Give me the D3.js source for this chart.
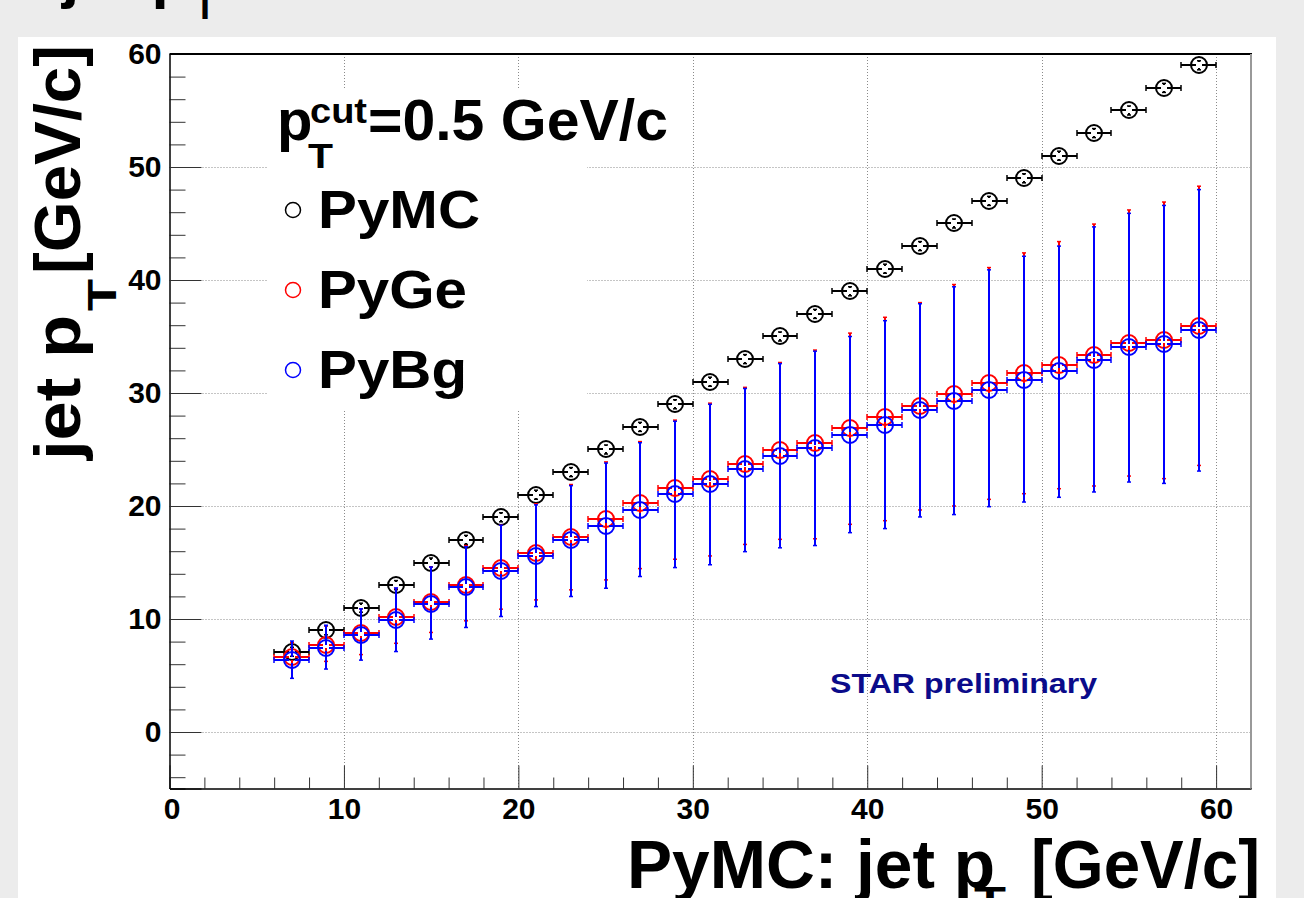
<!DOCTYPE html>
<html>
<head>
<meta charset="utf-8">
<script src="https://cdn.jsdelivr.net/npm/d3@7"></script>
<style>
  body { margin: 0; background: #ececec; }
  text { font-family: "Liberation Sans", Arial, sans-serif; font-weight: bold; }
</style>
</head>
<body>
<div id="chart"></div>
<script>
// bin centres of the PyMC jet pT histogram
let xBins = [7, 9, 11, 13, 15, 17, 19, 21, 23, 25, 27, 29, 31, 33, 35, 37, 39, 41, 43, 45, 47, 49, 51, 53, 55, 57, 59];
let binHalf = 1;

let pymcY = [7.1, 9.0, 11.0, 13.0, 15.0, 17.0, 19.0, 21.0, 23.0, 25.0, 27.0, 29.0, 31.0, 33.0, 35.0, 37.0, 39.0, 41.0, 43.0, 45.0, 47.0, 49.0, 51.0, 53.0, 55.0, 57.0, 59.0];
let pymcErr = [0.4, 0.4, 0.4, 0.4, 0.4, 0.4, 0.4, 0.4, 0.4, 0.4, 0.4, 0.4, 0.4, 0.4, 0.4, 0.4, 0.4, 0.4, 0.4, 0.4, 0.4, 0.4, 0.4, 0.4, 0.4, 0.4, 0.4];

let pygeY = [6.6, 7.69, 8.8, 10.16, 11.52, 13.05, 14.55, 15.88, 17.26, 18.82, 20.24, 21.56, 22.36, 23.68, 24.95, 25.54, 26.92, 27.86, 28.84, 29.87, 30.9, 31.78, 32.46, 33.34, 34.43, 34.67, 35.96];
let pygeLo = [5.7, 6.25, 6.85, 7.85, 8.81, 9.84, 10.87, 11.69, 12.58, 13.46, 14.46, 15.29, 15.58, 16.6, 17.05, 17.1, 18.38, 18.7, 19.65, 20.0, 20.59, 21.09, 21.53, 21.77, 22.65, 22.42, 23.59];
let pygeHi = [7.9, 9.4, 10.9, 12.7, 14.6, 16.5, 18.3, 20.2, 21.9, 23.9, 25.7, 27.6, 29.1, 30.5, 32.7, 33.8, 35.3, 36.7, 38.0, 39.6, 41.1, 42.4, 43.4, 44.95, 46.2, 46.9, 48.3];

let pybgY = [6.4, 7.45, 8.6, 9.95, 11.37, 12.81, 14.25, 15.58, 16.97, 18.23, 19.64, 21.09, 21.97, 23.3, 24.4, 25.1, 26.27, 27.2, 28.48, 29.28, 30.3, 31.19, 31.93, 32.96, 34.05, 34.34, 35.55];
let pybgLo = [4.75, 5.57, 6.36, 7.12, 8.22, 9.25, 10.22, 11.1, 11.99, 12.72, 13.76, 14.55, 14.8, 15.96, 16.3, 16.5, 17.64, 18.0, 19.03, 19.24, 19.94, 20.35, 20.77, 21.24, 22.12, 22.0, 23.09];
let pybgHi = [8.05, 9.45, 10.9, 12.75, 14.6, 16.4, 18.3, 20.1, 21.8, 23.8, 25.6, 27.5, 29.0, 30.4, 32.6, 33.7, 35.0, 36.4, 37.9, 39.4, 40.9, 42.1, 43.0, 44.7, 45.9, 46.6, 48.0];

let seriesNames = ['PyMC', 'PyGe', 'PyBg'];
let seriesColors = ['#000000', '#ff0000', '#0000ff'];

let xTickLabels = [0, 10, 20, 30, 40, 50, 60];
let yTickLabels = [0, 10, 20, 30, 40, 50, 60];
let xDomain = [0, 62];
let yDomain = [-5, 60];

(function () {
  let width = 1304,
    height = 898;

  let svg = d3.select('#chart').append('svg')
    .attr('width', width)
    .attr('height', height)
    .style('display', 'block');

  svg.append('rect')
    .attr('width', width)
    .attr('height', height)
    .attr('fill', '#ececec');

  // page title, mostly cut off by the top of the canvas
  let title = svg.append('g');
  title.append('text').attr('x', 62).attr('y', -4).style('font-size', '62px').text('jet p');
  title.append('text').attr('x', 194).attr('y', 19).style('font-size', '36px').text('T');
  title.append('text').attr('x', 233).attr('y', -4).style('font-size', '62px').text('resolution');

  // white pad
  svg.append('rect')
    .attr('x', 18)
    .attr('y', 37)
    .attr('width', 1258)
    .attr('height', height - 37)
    .attr('fill', '#ffffff');

  let left = 169.5,
    right = 1251,
    top = 54,
    bottom = 788.5;

  let x = d3.scaleLinear().domain(xDomain).range([left, right]);
  let y = d3.scaleLinear().domain(yDomain).range([bottom, top]);

  // grid
  let grid = svg.append('g')
    .attr('stroke', '#8a8a8a')
    .attr('stroke-width', 1)
    .attr('stroke-dasharray', '1,2');
  grid.selectAll('line.gx')
    .data(xTickLabels.filter((d) => d > 0)).enter()
    .append('line')
    .attr('x1', (d) => Math.round(x(d)) + 0.5)
    .attr('x2', (d) => Math.round(x(d)) + 0.5)
    .attr('y1', top)
    .attr('y2', bottom);
  grid.selectAll('line.gy')
    .data(yTickLabels.filter((d) => d < 60)).enter()
    .append('line')
    .attr('y1', (d) => Math.round(y(d)) + 0.5)
    .attr('y2', (d) => Math.round(y(d)) + 0.5)
    .attr('x1', left)
    .attr('x2', right);

  // axes: minor ticks every 2, major every 10
  let yMinor = d3.range(-4, 60, 2).filter((d) => d % 10 !== 0);
  let xMinor = d3.range(2, 62.1, 2).filter((d) => d % 10 !== 0);

  let yAxisMinor = svg.append('g')
    .attr('transform', 'translate(' + left + ',0)')
    .call(d3.axisLeft(y).tickValues(yMinor).tickSize(-16).tickFormat(''));
  let yAxisMajor = svg.append('g')
    .attr('transform', 'translate(' + left + ',0)')
    .call(d3.axisLeft(y).tickValues(yTickLabels).tickSize(-32).tickPadding(8));
  let xAxisMinor = svg.append('g')
    .attr('transform', 'translate(0,' + bottom + ')')
    .call(d3.axisBottom(x).tickValues(xMinor).tickSize(-11).tickFormat(''));
  let xAxisMajor = svg.append('g')
    .attr('transform', 'translate(0,' + bottom + ')')
    .call(d3.axisBottom(x).tickValues(xTickLabels).tickSize(-23).tickPadding(9));

  [yAxisMinor, yAxisMajor, xAxisMinor, xAxisMajor].forEach((g) => {
    g.select('.domain').attr('stroke', '#000').attr('stroke-width', 1);
    g.selectAll('.tick line').attr('stroke', '#333').attr('stroke-width', 1);
    g.selectAll('.tick text')
      .attr('fill', '#000')
      .style('font-size', '30px')
      .style('font-family', '"Liberation Sans", Arial, sans-serif')
      .style('font-weight', 'bold');
  });
  xAxisMajor.select('.tick text').attr('dx', 2);

  // frame top and right
  svg.append('line')
    .attr('x1', left).attr('x2', right + 1)
    .attr('y1', top).attr('y2', top)
    .attr('stroke', '#000').attr('stroke-width', 2);
  svg.append('line')
    .attr('x1', right).attr('x2', right)
    .attr('y1', top).attr('y2', bottom)
    .attr('stroke', '#999').attr('stroke-width', 2);

  // data
  let gap = 3;
  function drawSeries(rows, color) {
    let g = svg.append('g')
      .attr('stroke', color)
      .attr('fill', 'none')
      .attr('stroke-width', 2);

    rows.forEach((d) => {
      let cx = Math.round(x(d.x)), cy = Math.round(y(d.y));
      let xl = Math.round(x(d.x - binHalf)), xr = Math.round(x(d.x + binHalf));
      let yt = y(d.hi), yb = y(d.lo);

      g.append('line').attr('x1', xl).attr('x2', cx - gap).attr('y1', cy).attr('y2', cy);
      g.append('line').attr('x1', cx + gap).attr('x2', xr).attr('y1', cy).attr('y2', cy);
      g.append('line').attr('x1', xl).attr('x2', xl).attr('y1', cy - 3).attr('y2', cy + 3).attr('stroke-width', 1.5);
      g.append('line').attr('x1', xr).attr('x2', xr).attr('y1', cy - 3).attr('y2', cy + 3).attr('stroke-width', 1.5);

      if (cy - yt > gap) {
        g.append('line').attr('x1', cx).attr('x2', cx).attr('y1', yt).attr('y2', cy - gap);
      }
      if (yb - cy > gap) {
        g.append('line').attr('x1', cx).attr('x2', cx).attr('y1', cy + gap).attr('y2', yb);
      }
      g.append('line').attr('x1', cx - 2).attr('x2', cx + 2).attr('y1', yt).attr('y2', yt).attr('stroke-width', 1.5);
      g.append('line').attr('x1', cx - 2).attr('x2', cx + 2).attr('y1', yb).attr('y2', yb).attr('stroke-width', 1.5);

      g.append('circle').attr('cx', cx).attr('cy', cy).attr('r', 8);
    });
  }

  let pymcRows = xBins.map((v, i) => ({ x: v, y: pymcY[i], lo: pymcY[i] - pymcErr[i], hi: pymcY[i] + pymcErr[i] }));
  let pygeRows = xBins.map((v, i) => ({ x: v, y: pygeY[i], lo: pygeLo[i], hi: pygeHi[i] }));
  let pybgRows = xBins.map((v, i) => ({ x: v, y: pybgY[i], lo: pybgLo[i], hi: pybgHi[i] }));

  drawSeries(pymcRows, seriesColors[0]);
  drawSeries(pygeRows, seriesColors[1]);
  drawSeries(pybgRows, seriesColors[2]);

  // legend
  let legend = svg.append('g');
  legend.append('rect')
    .attr('x', 268).attr('y', 90)
    .attr('width', 319).attr('height', 320)
    .attr('fill', '#ffffff');
  legend.append('text').attr('x', 277).attr('y', 140).style('font-size', '58px').text('p');
  legend.append('text').attr('x', 308).attr('y', 168).style('font-size', '35px').attr('textLength', 25).attr('lengthAdjust', 'spacingAndGlyphs').text('T');
  legend.append('text').attr('x', 310).attr('y', 123).style('font-size', '35px').attr('textLength', 57).attr('lengthAdjust', 'spacingAndGlyphs').text('cut');
  legend.append('text').attr('x', 368).attr('y', 140).style('font-size', '58px').attr('textLength', 300).attr('lengthAdjust', 'spacingAndGlyphs').text('=0.5 GeV/c');

  let legendLen = [162, 149, 149];
  seriesNames.forEach((name, i) => {
    let base = 228 + i * 80;
    legend.append('circle')
      .attr('cx', 293).attr('cy', base - 18).attr('r', 7.5)
      .attr('fill', 'none')
      .attr('stroke', seriesColors[i])
      .attr('stroke-width', 1.5);
    legend.append('text')
      .attr('x', 318).attr('y', base)
      .style('font-size', '53px')
      .attr('textLength', legendLen[i])
      .attr('lengthAdjust', 'spacingAndGlyphs')
      .text(name);
  });

  svg.append('text')
    .attr('x', 830).attr('y', 693)
    .attr('fill', '#0b0b8a')
    .style('font-size', '28px')
    .attr('textLength', 267)
    .attr('lengthAdjust', 'spacingAndGlyphs')
    .text('STAR preliminary');

  // y axis title
  let yTitle = svg.append('g').attr('transform', 'translate(80,460) rotate(-90)');
  yTitle.append('text').attr('x', 0).attr('y', 0).style('font-size', '64px').attr('textLength', 145).attr('lengthAdjust', 'spacingAndGlyphs').text('jet p');
  yTitle.append('text').attr('x', 149).attr('y', 36).style('font-size', '40px').attr('textLength', 32).attr('lengthAdjust', 'spacingAndGlyphs').text('T');
  yTitle.append('text').attr('x', 186).attr('y', 0).style('font-size', '64px').attr('textLength', 229).attr('lengthAdjust', 'spacingAndGlyphs').text('[GeV/c]');

  // x axis title
  let xTitle = svg.append('g');
  xTitle.append('text').attr('x', 627).attr('y', 888).style('font-size', '68px').attr('textLength', 368).attr('lengthAdjust', 'spacingAndGlyphs').text('PyMC: jet p');
  xTitle.append('text').attr('x', 974).attr('y', 915).style('font-size', '40px').attr('textLength', 32).attr('lengthAdjust', 'spacingAndGlyphs').text('T');
  xTitle.append('text').attr('x', 1031).attr('y', 888).style('font-size', '68px').attr('textLength', 229).attr('lengthAdjust', 'spacingAndGlyphs').text('[GeV/c]');
})();
</script>
</body>
</html>
